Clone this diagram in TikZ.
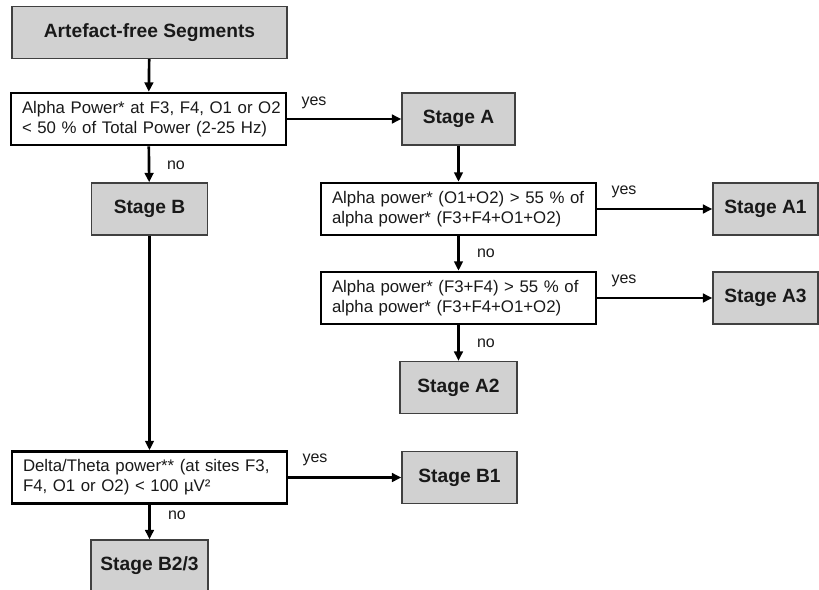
\documentclass[tikz,border=0pt]{standalone}
\usepackage{fontspec}
\setmainfont{Liberation Sans}
\usetikzlibrary{arrows.meta}
\hbadness=10000 \hfuzz=20pt
\begin{document}
\begin{tikzpicture}[x=0.75pt,y=-0.75pt,
  stagebox/.style={draw=black!75, line width=1.1pt, fill=black!18, minimum height=39pt, inner sep=0pt, font=\fontsize{14.4}{17}\selectfont\bfseries, text=black!90},
  condbox/.style={draw=black, line width=2pt, fill=white, minimum height=39pt, text width=189.75pt, inner xsep=8.25pt, inner ysep=0pt, align=left, font=\fontsize{12.6}{15}\selectfont, text=black!90},
  conn/.style={line width=2pt, -{Triangle[length=7pt,width=6.5pt]}},
  lbl/.style={font=\fontsize{12}{14}\selectfont, text=black!90, inner sep=0pt}]
\useasboundingbox (0,0) rectangle (819,590);
% stage boxes
\node[stagebox, minimum width=206.25pt] (seg) at (149.5,32.5) {Artefact-free Segments};
\node[stagebox, minimum width=84.75pt] (A) at (458.5,119) {Stage A};
\node[stagebox, minimum width=87pt] (B) at (149.5,209) {Stage B};
\node[stagebox, minimum width=78.75pt] (A1) at (765.5,209) {Stage A1};
\node[stagebox, minimum width=78.75pt] (A3) at (765.5,298) {Stage A3};
\node[stagebox, minimum width=87.75pt] (A2) at (458.5,387.5) {Stage A2};
\node[stagebox, minimum width=86.25pt] (B1) at (459.5,477.5) {Stage B1};
\node[stagebox, minimum width=87.75pt] (B23) at (149.5,566) {Stage B2/3};
% condition boxes
\node[condbox] (c1) at (148.5,119) {\mbox{Alpha Power* at F3, F4, O1 or O2}\\\mbox{< 50 \% of Total Power (2-25 Hz)}};
\node[condbox] (c2) at (458.5,209) {\mbox{Alpha power* (O1+O2) > 55 \% of}\\\mbox{alpha power* (F3+F4+O1+O2)}};
\node[condbox] (c3) at (458.5,298) {\mbox{Alpha power* (F3+F4) > 55 \% of}\\\mbox{alpha power* (F3+F4+O1+O2)}};
\node[condbox] (c4) at (149.5,477.5) {\mbox{Delta/Theta power** (at sites F3,}\\\mbox{F4, O1 or O2) < 100 µV²}};
% connectors
\draw[conn] (seg) -- (c1);
\draw[conn] (c1) -- (A);
\draw[conn] (c1) -- (B);
\draw[conn] (A) -- (c2);
\draw[conn] (c2) -- (A1);
\draw[conn] (c2) -- (c3);
\draw[conn] (c3) -- (A3);
\draw[conn] (c3) -- (A2);
\draw[conn] (B) -- (c4);
\draw[conn] (c4) -- (B1);
\draw[conn] (c4) -- (B23);
% labels
\node[lbl] (y1) at (314,103) {yes};
\node[lbl] (n1) at (176,165) {no};
\node[lbl] (y2) at (624,192) {yes};
\node[lbl] (n2) at (486,253) {no};
\node[lbl] (y3) at (624,281) {yes};
\node[lbl] (n3) at (486,343) {no};
\node[lbl] (y4) at (315,460) {yes};
\node[lbl] (n4) at (177,515) {no};
\end{tikzpicture}
\end{document}
